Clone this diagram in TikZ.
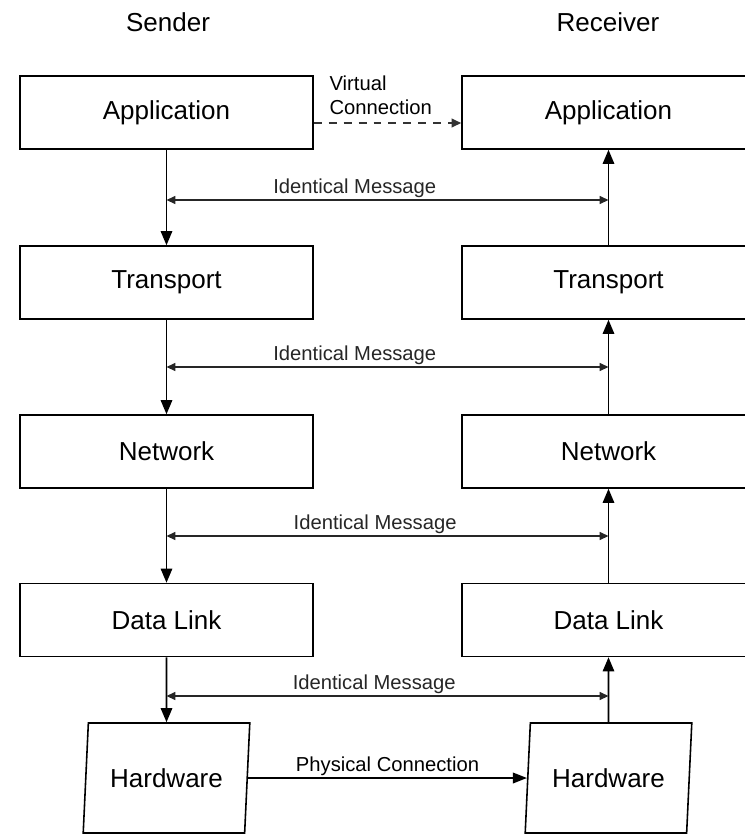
\documentclass[tikz,border=0pt]{standalone}
\usepackage{fontspec}
\setmainfont{Liberation Sans}
\usepackage{tikz}
\usetikzlibrary{arrows.meta, positioning, calc, shapes.geometric}

\newcommand{\boxfont}{\fontsize{14.8}{17}\selectfont}
\newcommand{\lblfont}{\fontsize{11.5}{13.6}\selectfont}

\begin{document}
\begin{tikzpicture}[
    layerbox/.style={draw, line width=0.9pt, minimum width=5.86cm, minimum height=1.46cm, inner sep=0pt, font=\boxfont},
    hwbox/.style={draw, line width=0.9pt, trapezium, trapezium left angle=79, trapezium right angle=101,
                  trapezium stretches=true, minimum width=3.34cm, minimum height=2.2cm, inner sep=0pt, font=\boxfont},
    stackarr/.style={line width=1pt, -{Triangle[length=8pt, width=6.5pt]}},
    msgarr/.style={line width=0.8pt, black!85, {Triangle[length=5pt, width=4.5pt]}-{Triangle[length=5pt, width=4.5pt]}},
    lbl/.style={font=\lblfont, inner sep=1pt}
  ]
  % page frame
  \clip (0,0) rectangle (14.9,-16.7);

  % column titles
  \node[font=\boxfont] (sender) at (3.36,-0.44) {Sender};
  \node[font=\boxfont] (receiver) at (12.16,-0.44) {Receiver};

  % sender stack
  \node[layerbox] (sapp) at (3.33,-2.25) {Application};
  \node[layerbox] (stra) at (3.33,-5.65) {Transport};
  \node[layerbox] (snet) at (3.33,-9.03) {Network};
  \node[layerbox] (sdl)  at (3.33,-12.40) {Data Link};
  \node[hwbox]    (shw)  at (3.33,-15.56) {Hardware};

  % receiver stack
  \node[layerbox] (rapp) at (12.17,-2.25) {Application};
  \node[layerbox] (rtra) at (12.17,-5.65) {Transport};
  \node[layerbox] (rnet) at (12.17,-9.03) {Network};
  \node[layerbox] (rdl)  at (12.17,-12.40) {Data Link};
  \node[hwbox]    (rhw)  at (12.17,-15.56) {Hardware};

  % down the sender, up the receiver
  \draw[stackarr] (sapp.south) -- (stra.north);
  \draw[stackarr] (stra.south) -- (snet.north);
  \draw[stackarr] (snet.south) -- (sdl.north);
  \draw[stackarr] (sdl.south) -- (shw.north);
  \draw[stackarr] (rhw.north) -- (rdl.south);
  \draw[stackarr] (rdl.north) -- (rnet.south);
  \draw[stackarr] (rnet.north) -- (rtra.south);
  \draw[stackarr] (rtra.north) -- (rapp.south);

  % peer messages
  \coordinate (m1l) at (3.33,-4.00);   \coordinate (m1r) at (12.17,-4.00);
  \coordinate (m2l) at (3.33,-7.34);   \coordinate (m2r) at (12.17,-7.34);
  \coordinate (m3l) at (3.33,-10.72);  \coordinate (m3r) at (12.17,-10.72);
  \coordinate (m4l) at (3.33,-13.92);  \coordinate (m4r) at (12.17,-13.92);
  \draw[msgarr] (m1l) -- node[lbl, above, pos=0.426]{Identical Message} (m1r);
  \draw[msgarr] (m2l) -- node[lbl, above, pos=0.426]{Identical Message} (m2r);
  \draw[msgarr] (m3l) -- node[lbl, above, pos=0.472]{Identical Message} (m3r);
  \draw[msgarr] (m4l) -- node[lbl, above, pos=0.47]{Identical Message} (m4r);

  % virtual connection
  \draw[line width=0.9pt, black!80, dash pattern=on 4.5pt off 4pt, -{Triangle[length=5.5pt, width=5pt]}]
    ([yshift=-0.21cm]sapp.east) -- ([yshift=-0.21cm]rapp.west);
  \node[lbl, anchor=west, align=left] (virt) at (6.55,-1.9) {Virtual\\Connection};

  % physical connection
  \draw[line width=1pt, -{Triangle[length=8pt, width=6pt]}]
    (shw.east) -- node[lbl, above]{Physical Connection} (rhw.west);
\end{tikzpicture}
\end{document}
